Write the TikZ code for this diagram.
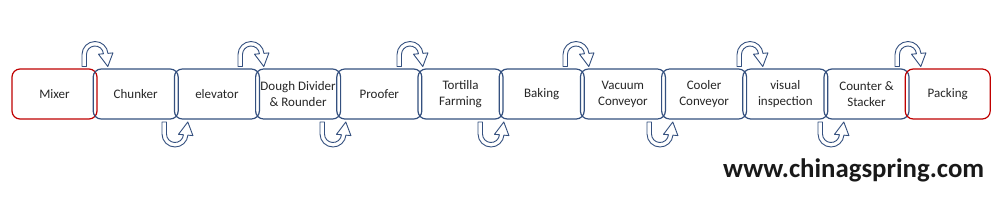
\documentclass[tikz,border=0pt]{standalone}
\usepackage{fontspec}
\setmainfont{Carlito}
\begin{document}
\begin{tikzpicture}[x=1pt,y=1pt,
  stage/.style={draw=boxblue,line width=1.2pt,rounded corners=8pt,minimum width=85pt,minimum height=50pt,inner sep=0pt,align=center,font=\fontsize{13}{16}\selectfont,text=black!85},
  endstage/.style={stage,draw=boxred},
  curvearrow/.style={draw=boxblue,line width=0.9pt,fill=white,line join=round}]
\definecolor{boxblue}{HTML}{34507F}
\definecolor{boxred}{HTML}{C00000}
\useasboundingbox (0,0) rectangle (1000,202);
\fill[white] (0,0) rectangle (1000,202);
\tikzset{
  pics/uparrow/.style={code={
    \path[curvearrow] (-13,0) -- (-13,12) arc[start angle=180,end angle=5,radius=13]
      -- (17.9,13.6) -- (12.8,0) -- (3.5,12.3) -- (8.47,12.74)
      arc[start angle=5,end angle=180,radius=8.5] -- (-8.5,0) -- cycle;
  }}
}
% stages (left edges 12 + 81.2 k, width 85)
\node[endstage] (s1) at (54.5,108) {Mixer};
\node[stage] (s2) at (135.7,108) {Chunker};
\node[stage] (s3) at (216.9,108) {elevator};
\node[stage] (s4) at (298.1,108) {Dough Divider\\\& Rounder};
\node[stage] (s5) at (379.3,108) {Proofer};
\node[stage] (s6) at (460.5,108) {Tortilla\\Farming};
\node[stage] (s7) at (541.7,108) {Baking};
\node[stage] (s8) at (622.9,108) {Vacuum\\Conveyor};
\node[stage] (s9) at (704.1,108) {Cooler\\Conveyor};
\node[stage] (s10) at (785.3,108) {visual\\inspection};
\node[stage] (s11) at (866.5,108) {Counter \&\\Stacker};
\node[endstage] (s12) at (947.7,108) {Packing};
% upper arrows
\foreach \cx in {95,251,410,576,750,908}
  \pic at (\cx,135.5) {uparrow};
% lower arrows
\foreach \cx in {175,333,491,660,831}
  \pic[yscale=-1] at (\cx,80) {uparrow};
\node[anchor=base west,inner sep=0pt,font=\fontsize{26.8}{30}\selectfont\bfseries,text=black!90] (url) at (723,25) {www.chinagspring.com};
\end{tikzpicture}
\end{document}
